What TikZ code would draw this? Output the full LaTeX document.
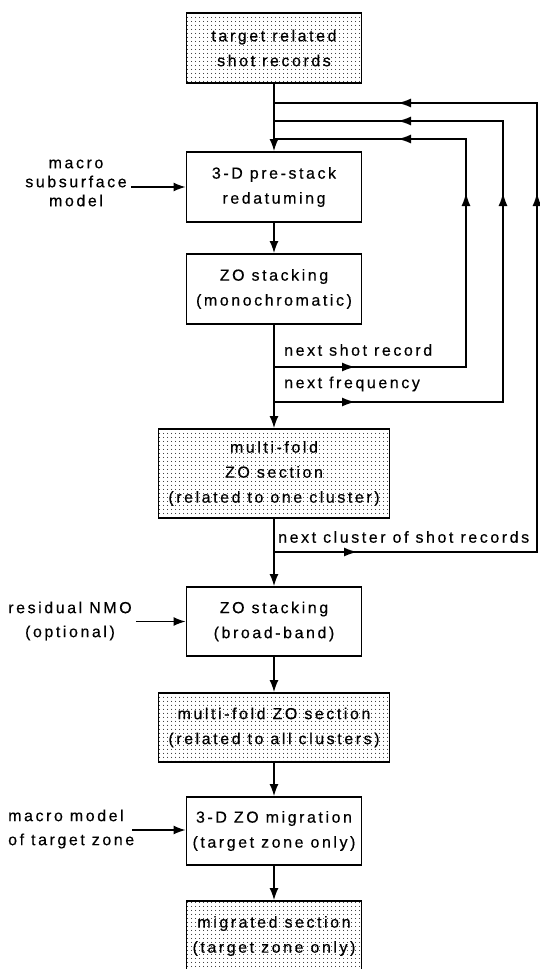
\documentclass[tikz,border=0pt]{standalone}
\usepackage{fontspec}
\setmainfont{Liberation Sans}[LetterSpace=16,FakeBold=0.4]
\usetikzlibrary{arrows.meta,decorations.markings,patterns.meta}

\newcommand{\fbtip}{\arrow{Latex[length=13pt,width=9pt]}}

\begin{document}
\begin{tikzpicture}[x=1pt,y=-1pt,
    box/.style={draw, line width=1.9pt, minimum width=175pt, minimum height=70pt,
      align=center, inner sep=2pt, font=\fontsize{16}{25}\selectfont},
    widebox/.style={box, minimum width=231pt},
    stipple/.style={pattern={Dots[distance=4pt,radius=0.6pt]}, pattern color=black},
    side/.style={align=center, inner sep=4pt, font=\fontsize{16}{24}\selectfont},
    flow/.style={line width=1.4pt, -{Latex[length=12pt,width=9pt]}},
    fb/.style={line width=1.4pt},
    fbtips/.style n args={3}{postaction={decorate,decoration={markings,
      mark=at position #1 with {\fbtip},
      mark=at position #2 with {\fbtip},
      mark=at position #3 with {\fbtip}}}},
    lbl/.style={anchor=west, inner sep=0pt, font=\fontsize{16}{18}\selectfont}]

  % Page frame
  \useasboundingbox (0,0) rectangle (540,969);
  \clip (0,0) rectangle (540,969);

  % Main column
  \def\xm{274}
  \node[box, stipple] (shots) at (\xm,48) {target related\\shot records};
  \node[box] (redatum) at (\xm,187) {3-D pre-stack\\redatuming};
  \node[box] (zomono) at (\xm,289) {ZO stacking\\(monochromatic)};
  \node[widebox, stipple, minimum height=89pt] (zoone) at (\xm,473.5)
    {multi-fold\\ZO section\\(related to one cluster)};
  \node[box, minimum height=69pt] (zobroad) at (\xm,621.5) {ZO stacking\\(broad-band)};
  \node[widebox, stipple, minimum height=69pt] (zoall) at (\xm,727.5)
    {multi-fold ZO section\\(related to all clusters)};
  \node[box, minimum height=68pt] (zomig) at (\xm,831) {3-D ZO migration\\(target zone only)};
  \node[box, stipple] (migsec) at (\xm,936) {migrated section\\(target zone only)};

  % Side inputs
  \node[side, font=\fontsize{16}{19}\selectfont] (macrosub) at (76,183)
    {macro\\subsurface\\model};
  \node[side] (resnmo) at (70,621) {residual NMO\\(optional)};
  \node[side, align=left, anchor=west, inner sep=0pt] (macrotgt) at (8,829)
    {macro model\\of target zone};
  \coordinate (tgtin) at (132,830);

  % Downward flow
  \draw[flow] (shots) -- (redatum);
  \draw[flow] (redatum) -- (zomono);
  \draw[flow] (zomono) -- (zoone);
  \draw[flow] (zoone) -- (zobroad);
  \draw[flow] (zobroad) -- (zoall);
  \draw[flow] (zoall) -- (zomig);
  \draw[flow] (zomig) -- (migsec);

  \draw[flow] (macrosub.east |- redatum.west) -- (redatum.west);
  \draw[flow] (resnmo.east |- zobroad.west) -- (zobroad.west);
  \draw[flow] (tgtin) -- (tgtin -| zomig.west);

  % Feedback loops
  \coordinate (shotout) at (\xm,367);
  \coordinate (shotin) at (\xm,139);
  \coordinate (freqout) at (\xm,402);
  \coordinate (freqin) at (\xm,121);
  \coordinate (clusout) at (\xm,552);
  \coordinate (clusin) at (\xm,103);

  \draw[fb, fbtips={81pt}{366pt}{488pt}]
    (shotout) -- ++(192,0) |- (shotin);
  \draw[fb, fbtips={81pt}{438pt}{615pt}]
    (freqout) -- ++(229,0) |- (freqin);
  \draw[fb, fbtips={83pt}{622pt}{851pt}]
    (clusout) -- ++(263,0) |- (clusin);

  \node[lbl] (lshot) at (284,350) {next shot record};
  \node[lbl] (lfreq) at (284,384) {next frequency};
  \node[lbl] (lclus) at (278,537) {next cluster of shot records};
\end{tikzpicture}
\end{document}
